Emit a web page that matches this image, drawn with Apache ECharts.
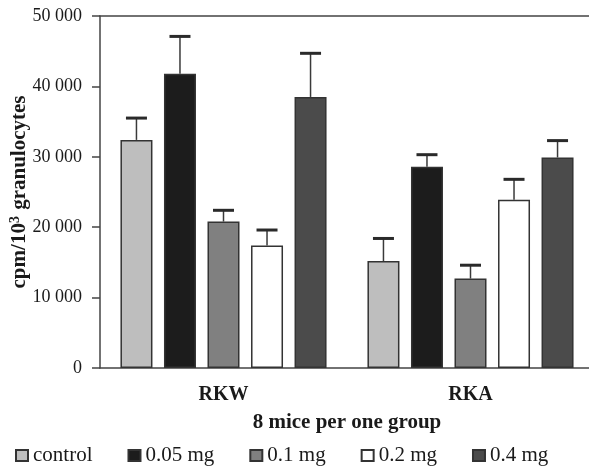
<!DOCTYPE html>
<html>
<head>
<meta charset="utf-8">
<script src="https://cdn.jsdelivr.net/npm/echarts@6/dist/echarts.min.js"></script>
<style>
  html, body { margin: 0; padding: 0; background: #fff; }
  #chart { width: 589px; height: 466px; }
</style>
</head>
<body>
<div id="chart"></div>
<script>
  // groups on the x axis
  var categories = ['RKW', 'RKA']
  var doses = ['control', '0.05 mg', '0.1 mg', '0.2 mg', '0.4 mg']

  // bar heights (mean), one value per group
  var meanControl = [32400, 15200]
  var mean005 = [41800, 28600]
  var mean01 = [20800, 12700]
  var mean02 = [17400, 23900]
  var mean04 = [38500, 29900]

  // top of the error bar, one value per group
  var upperControl = [35500, 18400]
  var upper005 = [47100, 30300]
  var upper01 = [22400, 14600]
  var upper02 = [19600, 26800]
  var upper04 = [44700, 32300]

  var yTicks = [0, 10000, 20000, 30000, 40000, 50000]

  var means = [meanControl, mean005, mean01, mean02, mean04]
  var uppers = [upperControl, upper005, upper01, upper02, upper04]
  var fills = ['#bebebe', '#1c1c1c', '#808080', '#ffffff', '#4b4b4b']

  var font = 'Liberation Serif'
  var ink = '#1a1a1a'
  var barWidth = 32
  var barGap = 0.36

  function fmt (v) {
    return String(v).replace(/\B(?=(\d{3})+(?!\d))/g, ' ')
  }

  var series = []
  doses.forEach(function (d, i) {
    series.push({
      name: d,
      type: 'bar',
      xAxisIndex: 0,
      barWidth: barWidth,
      barGap: (barGap * 100) + '%',
      itemStyle: { color: fills[i], borderColor: '#333', borderWidth: 1.5 },
      data: means[i]
    })
  })
  doses.forEach(function (d, i) {
    var offset = (i - 2) * barWidth * (1 + barGap)
    series.push({
      name: d + ' err',
      type: 'custom',
      xAxisIndex: 0,
      z: 3,
      data: categories.map(function (c, k) { return [k, means[i][k], uppers[i][k]] }),
      renderItem: function (params, api) {
        var lo = api.coord([api.value(0), api.value(1)])
        var hi = api.coord([api.value(0), api.value(2)])
        var x = lo[0] + offset
        return {
          type: 'group',
          children: [
            { type: 'line', shape: { x1: x, y1: lo[1], x2: x, y2: hi[1] },
              style: { stroke: '#3a3a3a', lineWidth: 1.5 } },
            { type: 'line', shape: { x1: x - 10.5, y1: hi[1], x2: x + 10.5, y2: hi[1] },
              style: { stroke: '#2a2a2a', lineWidth: 3 } }
          ]
        }
      }
    })
  })

  var chart = echarts.init(document.getElementById('chart'))
  chart.setOption({
    animation: false,
    backgroundColor: '#fff',
    grid: { left: 100, top: 16, width: 494, height: 352, containLabel: false, outerBoundsMode: 'none' },
    legend: {
      data: doses,
      left: 10,
      top: 440,
      itemWidth: 12,
      itemHeight: 11,
      itemGap: 35,
      icon: 'rect',
      textStyle: { fontFamily: font, fontSize: 21, color: ink }
    },
    xAxis: [{
      type: 'category',
      data: categories,
      name: '8 mice per one group',
      nameLocation: 'middle',
      nameGap: 44,
      nameTextStyle: { fontFamily: font, fontSize: 21, fontWeight: 'bold', color: ink },
      axisLine: { lineStyle: { color: '#444', width: 1.5 } },
      axisTick: { alignWithLabel: true, length: 7, lineStyle: { color: '#444', width: 1.5 } },
      axisLabel: { fontFamily: font, fontSize: 20, fontWeight: 'bold', color: ink, margin: 17 }
    }, {
      type: 'category',
      data: categories,
      position: 'top',
      axisLine: { lineStyle: { color: '#444', width: 1.5 } },
      axisTick: { show: false },
      axisLabel: { show: false }
    }],
    yAxis: {
      type: 'value',
      min: yTicks[0],
      max: yTicks[yTicks.length - 1],
      interval: 10000,
      name: 'cpm/10{sup|3} granulocytes',
      nameLocation: 'middle',
      nameGap: 69,
      nameMoveOverlap: false,
      nameTextStyle: {
        fontFamily: font, fontSize: 21, fontWeight: 'bold', color: ink,
        rich: {
          sup: { fontFamily: font, fontSize: 14, fontWeight: 'bold', color: ink,
            verticalAlign: 'bottom', padding: [0, 1, 9, 0] }
        }
      },
      axisLine: { show: true, lineStyle: { color: '#444', width: 1.5 } },
      axisTick: { show: true, length: 8, lineStyle: { color: '#444', width: 1.5 } },
      splitLine: { show: false },
      axisLabel: { fontFamily: font, fontSize: 18, color: ink, margin: 18, formatter: fmt }
    },
    series: series
  })
</script>
</body>
</html>
